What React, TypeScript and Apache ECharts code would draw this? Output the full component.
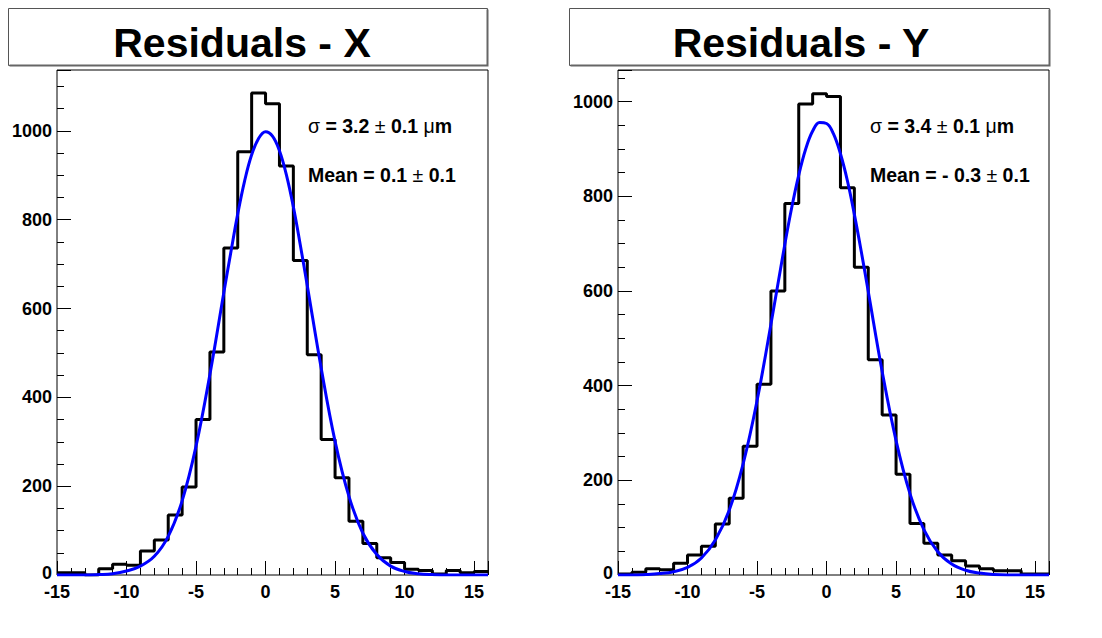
import React, { useEffect, useRef } from 'react';
import * as echarts from 'echarts';

// Histogram binning: 31 bins of width 1 starting at -15
const BIN_START = -15;
const BIN_WIDTH = 1;
const X_MIN = -15;
const X_MAX = 16;

// Bin contents (bins -15..15)
const COUNTS_X = [5, 5, 0, 14, 24, 22, 54, 79, 135, 198, 350, 502, 736, 953, 1085, 1061, 921, 708, 496, 305, 219, 121, 71, 39, 28, 13, 10, 2, 10, 5, 8];
const COUNTS_Y = [2, 6, 13, 11, 25, 42, 61, 108, 162, 272, 403, 600, 785, 995, 1017, 1011, 818, 650, 455, 338, 213, 109, 67, 42, 30, 19, 13, 9, 9, 2, 2];

// Gaussian fit curves at these x positions
const FIT_POS = [-15, -14, -13, -12, -11, -10, -9, -8, -7, -6, -5, -4, -3, -2.5, -2, -1.5, -1, -0.5, 0, 0.5, 1, 1.5, 2, 2.5, 3, 4, 5, 6, 7, 8, 9, 10, 11, 12, 13, 14, 15, 16];
const FIT_X = [0, 0, 0, 1, 3, 9, 20, 42, 87, 167, 290, 452, 636, 726, 813, 888, 946, 983, 998, 988, 955, 901, 829, 743, 652, 466, 301, 177, 94, 46, 20, 8, 3, 1, 0, 0, 0, 0];
const FIT_Y = [0, 0, 1, 3, 7, 16, 36, 74, 137, 235, 368, 530, 699, 777, 845, 900, 938, 956, 954, 932, 890, 833, 762, 683, 599, 430, 284, 172, 96, 49, 23, 10, 4, 1, 0, 0, 0, 0];

const TITLES = ['Residuals - X', 'Residuals - Y'];
const SIGMA_VALUES = ['3.2', '3.4'];
const MEAN_VALUES = ['0.1', '- 0.3'];
const ERRORS = ['0.1', '0.1'];
const Y_MAX = [1137, 1067];

const FONT = '"Liberation Sans", Arial, Helvetica, sans-serif';

function histPoints(counts: number[]) {
  const pts: number[][] = counts.map((c, i) => [BIN_START + i * BIN_WIDTH, c]);
  pts.push([BIN_START + counts.length * BIN_WIDTH, counts[counts.length - 1]]);
  return pts;
}

function fitPoints(vals: number[]) {
  return vals.map((v, i) => [FIT_POS[i], v]);
}

export default function App() {
  const ref = useRef<HTMLDivElement>(null);

  useEffect(() => {
    if (!ref.current) return;
    const chart = echarts.init(ref.current, undefined, { renderer: 'svg' });

    const grids = [
      { left: 57, top: 70, width: 431, height: 505 },
      { left: 618, top: 70, width: 431, height: 505 },
    ];
    const titleBoxes = [
      { x: 8.5, y: 8.5, w: 479, h: 57 },
      { x: 569.5, y: 8.5, w: 480, h: 57 },
    ];
    const titleCenters = [242, 801];
    const statsX = [308, 870];

    const hist = [COUNTS_X, COUNTS_Y];
    const fits = [FIT_X, FIT_Y];

    const graphic: any[] = [];
    [0, 1].forEach((i) => {
      const b = titleBoxes[i];
      graphic.push({
        type: 'rect',
        shape: { x: b.x, y: b.y, width: b.w, height: b.h },
        style: { fill: '#fff', stroke: '#555', lineWidth: 1 },
        z: 10,
      });
      graphic.push({
        type: 'polyline',
        shape: { points: [[b.x + b.w, b.y + 1], [b.x + b.w, b.y + b.h], [b.x + 1, b.y + b.h]] },
        style: { stroke: '#666', lineWidth: 2, fill: null },
        z: 11,
      });
      graphic.push({
        type: 'text',
        x: titleCenters[i],
        y: 43,
        style: {
          text: TITLES[i],
          font: `bold 41px ${FONT}`,
          fill: '#000',
          textAlign: 'center',
          textVerticalAlign: 'middle',
        },
        z: 12,
      });
      graphic.push({
        type: 'text',
        x: statsX[i],
        y: 126,
        style: {
          text: `{n|σ} = ${SIGMA_VALUES[i]} {n|±} ${ERRORS[i]} {n|μ}m`,
          font: `bold 19.5px ${FONT}`,
          fill: '#000',
          textAlign: 'left',
          textVerticalAlign: 'middle',
          rich: {
            n: { fontWeight: 'normal', fontSize: 19.5, fontFamily: FONT, fill: '#000' },
          },
        },
        z: 12,
      });
      graphic.push({
        type: 'text',
        x: statsX[i],
        y: 175,
        style: {
          text: `Mean = ${MEAN_VALUES[i]} {n|±} ${ERRORS[i]}`,
          font: `bold 19.5px ${FONT}`,
          fill: '#000',
          textAlign: 'left',
          textVerticalAlign: 'middle',
          rich: {
            n: { fontWeight: 'normal', fontSize: 19.5, fontFamily: FONT, fill: '#000' },
          },
        },
        z: 12,
      });
    });

    const labelStyle = {
      fontFamily: FONT,
      fontWeight: 'bold' as const,
      fontSize: 18,
      lineHeight: 14,
      color: '#000',
    };

    const option: any = {
      animation: false,
      backgroundColor: '#fff',
      grid: grids.map((g) => ({
        ...g,
        show: true,
        borderColor: '#000',
        borderWidth: 1,
        backgroundColor: '#fff',
        containLabel: false,
      })),
      xAxis: [0, 1].map((i) => ({
        type: 'value',
        gridIndex: i,
        min: X_MIN,
        max: X_MAX,
        interval: 5,
        axisLine: { show: false, onZero: false },
        splitLine: { show: false },
        axisTick: { show: true, inside: true, length: 14, lineStyle: { color: '#000', width: 1 } },
        minorTick: { show: true, splitNumber: 5, length: 7, lineStyle: { color: '#000', width: 1 } },
        axisLabel: {
          ...labelStyle,
          margin: 10,
          formatter: (v: number) => (v % 5 === 0 ? String(v) : ''),
        },
      })),
      yAxis: [0, 1].map((i) => ({
        type: 'value',
        gridIndex: i,
        min: 0,
        max: Y_MAX[i],
        interval: 200,
        axisLine: { show: false, onZero: false },
        splitLine: { show: false },
        axisTick: { show: true, inside: true, length: 14, lineStyle: { color: '#000', width: 1 } },
        minorTick: { show: true, splitNumber: 4, length: 7, lineStyle: { color: '#000', width: 1 } },
        axisLabel: {
          ...labelStyle,
          margin: 5,
          formatter: (v: number) => (v === 0 ? '{z|0}' : v % 200 === 0 ? String(v) : ''),
          rich: {
            z: {
              fontFamily: FONT,
              fontWeight: 'bold',
              fontSize: 18,
              lineHeight: 12,
              padding: [0, 0, 5, 0],
              color: '#000',
            },
          },
        },
      })),
      series: [
        ...[0, 1].map((i) => ({
          type: 'line',
          xAxisIndex: i,
          yAxisIndex: i,
          step: 'end',
          symbol: 'none',
          data: histPoints(hist[i]),
          lineStyle: { color: '#000', width: 3 },
          z: 2,
        })),
        ...[0, 1].map((i) => ({
          type: 'line',
          xAxisIndex: i,
          yAxisIndex: i,
          smooth: 0.4,
          symbol: 'none',
          data: fitPoints(fits[i]),
          lineStyle: { color: '#0000ff', width: 3 },
          z: 3,
        })),
      ],
      graphic,
    };

    chart.setOption(option);
    return () => chart.dispose();
  }, []);

  return (
    <div
      ref={ref}
      style={{ position: 'fixed', left: 0, top: 0, width: '1102px', height: '638px', background: '#fff' }}
    />
  );
}
